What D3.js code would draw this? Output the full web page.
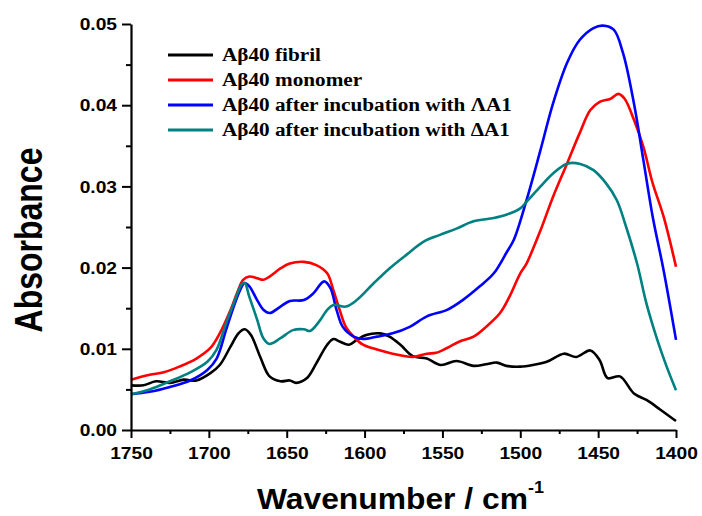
<!DOCTYPE html>
<html>
<head>
<meta charset="utf-8">
<script src="https://cdn.jsdelivr.net/npm/d3@7"></script>
<style>
  body { margin: 0; background: #fff; }
  svg { display: block; }
</style>
</head>
<body>
<svg id="chart" width="702" height="516"></svg>
<script>
// spectra: [wavenumber, absorbance]
const fibril = [[1750,.0055],[1742,.0055],[1734,.0060],[1725,.0058],[1716,.0062],[1708,.0061],[1699,.0070],[1693,.0080],[1686,.0103],[1681,.0119],[1677,.0124],[1673,.0117],[1667,.0090],[1661,.0066],[1654,.0060],[1648,.0061],[1644,.0058],[1637,.0064],[1631,.0082],[1624,.0105],[1620,.0112],[1616,.0109],[1610,.0105],[1605,.0111],[1599,.0117],[1590,.0119],[1584,.0115],[1577,.0105],[1569,.0091],[1560,.0088],[1551,.0080],[1541,.0085],[1530,.0079],[1522,.0081],[1515,.0083],[1509,.0079],[1500,.0078],[1492,.0080],[1483,.0084],[1472,.0094],[1464,.0090],[1455,.0098],[1449,.0086],[1444,.0064],[1436,.0066],[1427,.0045],[1419,.0037],[1410,.0025],[1400,.0011]];
const monomer = [[1750,.0062],[1738,.0068],[1729,.0071],[1719,.0078],[1708,.0088],[1699,.0101],[1693,.0119],[1686,.0148],[1682,.0168],[1678,.0185],[1674,.0189],[1669,.0187],[1665,.0185],[1661,.0189],[1654,.0199],[1648,.0205],[1639,.0207],[1631,.0203],[1624,.0193],[1620,.0172],[1616,.0148],[1612,.0127],[1607,.0115],[1601,.0105],[1592,.0099],[1582,.0094],[1569,.0090],[1560,.0094],[1554,.0095],[1547,.0101],[1539,.0109],[1530,.0115],[1522,.0127],[1513,.0144],[1507,.0164],[1500,.0193],[1496,.0205],[1487,.0246],[1479,.0287],[1470,.0328],[1462,.0365],[1455,.0394],[1449,.0404],[1442,.0408],[1437,.0414],[1433,.0408],[1427,.0382],[1421,.0349],[1415,.0304],[1408,.0263],[1400,.0201]];
const lambdaA1 = [[1750,.0044],[1738,.0047],[1725,.0053],[1712,.0061],[1701,.0074],[1695,.0088],[1689,.0123],[1684,.0152],[1680,.0172],[1677,.0181],[1674,.0177],[1669,.0160],[1665,.0148],[1661,.0144],[1654,.0152],[1648,.0159],[1639,.0160],[1633,.0168],[1626,.0183],[1622,.0175],[1618,.0148],[1614,.0127],[1607,.0115],[1601,.0112],[1592,.0115],[1582,.0119],[1571,.0127],[1560,.0140],[1547,.0148],[1537,.0160],[1526,.0177],[1517,.0193],[1509,.0218],[1504,.0235],[1496,.0283],[1487,.0345],[1479,.0402],[1470,.0452],[1462,.0480],[1453,.0495],[1447,.0498],[1440,.0493],[1434,.0464],[1427,.0402],[1421,.0333],[1415,.0263],[1408,.0197],[1400,.0111]];
const deltaA1 = [[1750,.0044],[1738,.0050],[1725,.0060],[1712,.0071],[1701,.0084],[1695,.0099],[1689,.0131],[1684,.0156],[1679,.0179],[1677,.0181],[1674,.0164],[1669,.0136],[1665,.0113],[1661,.0106],[1654,.0113],[1646,.0123],[1639,.0124],[1635,.0122],[1629,.0134],[1624,.0148],[1620,.0154],[1612,.0152],[1605,.0160],[1594,.0181],[1584,.0199],[1573,.0216],[1562,.0232],[1552,.0240],[1541,.0248],[1530,.0257],[1517,.0261],[1509,.0265],[1500,.0273],[1496,.0281],[1487,.0300],[1479,.0316],[1470,.0328],[1462,.0328],[1453,.0320],[1445,.0304],[1438,.0283],[1432,.0250],[1425,.0205],[1419,.0156],[1412,.0111],[1406,.0078],[1400,.0049]];

const seriesNames = ['A\u03b240 fibril', 'A\u03b240 monomer', 'A\u03b240 after incubation with \u039bA1', 'A\u03b240 after incubation with \u0394A1'];
const seriesColors = ['#000000', '#ff0000', '#0000ff', '#008080'];
const xTicks = [1750, 1700, 1650, 1600, 1550, 1500, 1450, 1400];
const xMinor = [1725, 1675, 1625, 1575, 1525, 1475, 1425];
const yTicks = [0, 0.01, 0.02, 0.03, 0.04, 0.05];
const yMinor = [0.005, 0.015, 0.025, 0.035, 0.045];

const svg = d3.select('#chart');
let margin = {left: 131, right: 676, top: 24, bottom: 430};

const x = d3.scaleLinear().domain([1750, 1400]).range([margin.left, margin.right]);
const y = d3.scaleLinear().domain([0, 0.05]).range([margin.bottom, margin.top]);

const sansFont = 'Arial, "Liberation Sans", sans-serif';
const serifFont = '"Times New Roman", "Liberation Serif", serif';

// curves
const line = d3.line()
    .x(d => x(d[0]))
    .y(d => y(d[1]))
    .curve(d3.curveCatmullRom.alpha(0.5));

let allSeries = [fibril, monomer, lambdaA1, deltaA1];
svg.append('g').selectAll('path')
    .data(allSeries)
    .enter()
    .append('path')
    .attr('d', d => line(d))
    .attr('fill', 'none')
    .attr('stroke', (d, i) => seriesColors[i])
    .attr('stroke-width', 2.6)
    .attr('stroke-linejoin', 'round');

// axes
let xAxis = svg.append('g')
    .attr('transform', 'translate(0,' + margin.bottom + ')')
    .call(d3.axisBottom(x).tickValues(xTicks).tickSize(8).tickSizeOuter(0).tickFormat(d3.format('d')));
svg.append('g')
    .attr('transform', 'translate(0,' + margin.bottom + ')')
    .call(d3.axisBottom(x).tickValues(xMinor).tickSize(4).tickSizeOuter(0).tickFormat(''))
    .select('.domain').remove();

let yAxis = svg.append('g')
    .attr('transform', 'translate(' + margin.left + ',0)')
    .call(d3.axisLeft(y).tickValues(yTicks).tickSize(9).tickSizeOuter(0).tickFormat(d3.format('.2f')));
svg.append('g')
    .attr('transform', 'translate(' + margin.left + ',0)')
    .call(d3.axisLeft(y).tickValues(yMinor).tickSize(5).tickSizeOuter(0).tickFormat(''))
    .select('.domain').remove();

svg.selectAll('.domain').attr('stroke', '#000').attr('stroke-width', 2.2);
svg.selectAll('.tick line').attr('stroke', '#000').attr('stroke-width', 2);

// tick labels: bold, slightly widened like the original
xAxis.selectAll('.tick text')
    .attr('font-family', sansFont)
    .attr('font-weight', 'bold')
    .attr('font-size', '16px')
    .attr('fill', '#000')
    .attr('y', 0).attr('dy', 0)
    .attr('transform', 'translate(0,29) scale(1.2,1)');

yAxis.selectAll('.tick text')
    .attr('font-family', sansFont)
    .attr('font-weight', 'bold')
    .attr('font-size', '16px')
    .attr('fill', '#000')
    .attr('x', 0).attr('dy', '0.36em')
    .attr('transform', 'translate(-14,0) scale(1.2,1)');

// axis titles
svg.append('text')
    .attr('transform', 'translate(42,240) scale(1.2,1) rotate(-90)')
    .attr('text-anchor', 'middle')
    .attr('font-family', sansFont)
    .attr('font-weight', 'bold')
    .attr('font-size', '32px')
    .text('Absorbance');

let xTitle = svg.append('text')
    .attr('transform', 'translate(257,509) scale(1.06,1)')
    .attr('font-family', sansFont)
    .attr('font-weight', 'bold')
    .attr('font-size', '30px');
xTitle.append('tspan').text('Wavenumber / cm');
xTitle.append('tspan')
    .attr('font-size', '17px')
    .attr('dy', -16)
    .text('-1');

// legend
let legend = svg.append('g');
let rowY = [55, 80, 105, 130];
seriesNames.forEach((name, i) => {
    legend.append('line')
        .attr('x1', 168).attr('x2', 213)
        .attr('y1', rowY[i]).attr('y2', rowY[i])
        .attr('stroke', seriesColors[i])
        .attr('stroke-width', 3);
    legend.append('text')
        .attr('class', 'leg')
        .attr('transform', 'translate(222,' + (rowY[i] + 6) + ')')
        .attr('font-family', serifFont)
        .attr('font-weight', 'bold')
        .attr('font-size', '18.5px')
        .text(name);
});
// stretch legend text so the longest entry spans the same width as in the figure
let widest = d3.max(legend.selectAll('text.leg').nodes(), n => n.getComputedTextLength());
let sx = 290 / widest;
legend.selectAll('text.leg').each(function (d, i) {
    d3.select(this).attr('transform', 'translate(222,' + (rowY[i] + 6) + ') scale(' + sx + ',1)');
});
</script>
</body>
</html>
